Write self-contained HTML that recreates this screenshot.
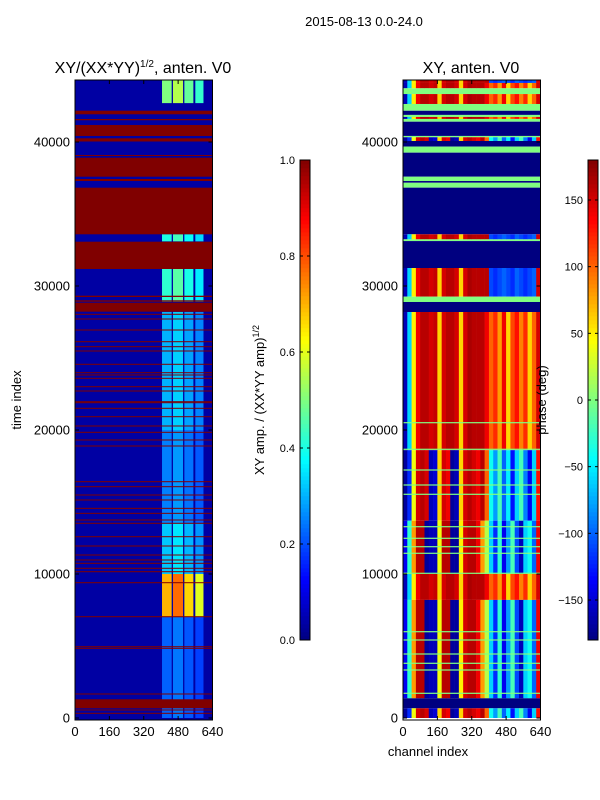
<!DOCTYPE html>
<html><head><meta charset="utf-8">
<style>
body{margin:0;background:#fff;}
svg{display:block;font-family:"Liberation Sans","DejaVu Sans",sans-serif;}
</style></head>
<body>
<svg id="fig" width="600" height="800" viewBox="0 0 600 800" xmlns="http://www.w3.org/2000/svg">
<rect width="600" height="800" fill="#fff"/>
<text x="364" y="26" font-size="13" text-anchor="middle">2015-08-13 0.0-24.0</text>
<text x="143" y="73" font-size="16" text-anchor="middle">XY/(XX*YY)<tspan font-size="10" dy="-6">1/2</tspan><tspan dy="6">, anten. V0</tspan></text>
<text x="471" y="73" font-size="16" text-anchor="middle">XY, anten. V0</text>
<g id="leftHeat"></g>
<g id="rightHeat"></g>
<g id="axes"></g>
<text transform="translate(21,400) rotate(-90)" font-size="13" text-anchor="middle">time index</text>
<text x="428" y="756" font-size="13" text-anchor="middle">channel index</text>
<text transform="translate(264,400) rotate(-90)" font-size="13" text-anchor="middle">XY amp. / (XX*YY amp)<tspan font-size="9" dy="-5">1/2</tspan></text>
<text id="phaseLabel" transform="translate(546,400) rotate(-90)" font-size="13" text-anchor="middle">phase (deg)</text>
</svg>
<script>
// ---- data ----
const tMin = -150, tMax = 44300;
const chMax = 640;
const yTicks = [0,10000,20000,30000,40000];
const xTicks = [0,160,320,480,640];
const ampTicks = [0.0,0.2,0.4,0.6,0.8,1.0];
const phaseTicks = [-150,-100,-50,0,50,100,150];
const stripeStart = [405,456,509,560];
const stripeEnd = [450,503,551,598];
const stripeGain = [1.0,1.1,0.95,0.85];
const brightStart = [42700,33100,28900,20000,13500,10000,7000,0];
const brightEnd   = [44300,33600,31200,28200,20000,13500,10000,7000];
const brightVal   = [0.5,0.4,0.42,0.3,0.25,0.32,0.7,0.22];
const ampBase = 0.035;
const redStart = [41924,41510,40417,40035,39028,37590,37292,33590,31181,29236,28910,28215,674];
const redEnd   = [42174,41597,41181,40257,39097,38910,37430,36826,33076,29326,29007,28840,1299];
const redLines = [28035,27708,26944,26132,25785,25486,24563,23979,23819,23590,23007,22708,21896,21965,21507,20924,20278,19840,19306,18889,16410,16063,15486,15139,14560,14213,13750,13521,12590,11944,11319,10972,10743,10396,10160,9396,7035,4951,4840,1667,556,326];
const profP1 = [-160,-60,50,140,160,160,150,155,60,150,160,160,150,60,150,165,160,160,160,160,-110,-120,-110,-100,-110,-120,-100,-110,-120,-110,-100,150];
const profP2 = [-160,-60,50,140,160,160,150,155,60,150,160,160,150,60,150,165,160,160,160,140,100,120,80,140,60,110,130,90,120,60,100,150];
const profP3 = [-170,-120,40,150,160,150,-160,-150,60,150,140,-170,-160,60,150,160,150,140,160,100,-40,-80,-20,-100,-50,-130,-60,-20,-90,-140,-60,130];
const profP4 = [-140,-30,80,160,160,-170,-160,-160,40,160,160,-170,-170,50,150,160,160,140,80,20,-60,-120,-30,-140,-80,-20,-110,-160,-60,-40,-100,140];
const phStart = [44100,43730,43330,42640,42170,41880,41740,41600,41410,40420,40330,40070,39680,39260,37590,37290,37170,36830,33590,33240,33120,31250,29260,28890,28194,18600,13700,10000,8200,1368,674,0];
const phEnd   = [44300,44100,43730,43330,42640,42170,41880,41740,41600,41410,40420,40330,40070,39680,39260,37590,37290,37170,36830,33590,33240,33120,31250,29260,28890,28194,18600,13700,10000,8200,1368,674];
const phKind  = ['P1','P2','G','P2','G','B','G','P2','G','B','G','P3','B','G','B','G','B','G','B','P1','G','B','P1','G','B','P2','P3','P4','P2','P4','B','P3'];
const greenLines = [20507,18660,17222,16181,15535,13285,12479,11896,11438,10049,5993,5417,4444,3799,3333,1715];

// ---- geometry ----
const NS='http://www.w3.org/2000/svg';
const plotTop=80, plotBot=720;
const yS = t => 718 - (t)*0.0144;
const L = {x0:75, x1:212.5}, R = {x0:403, x1:540.5};
const xS = (p,c) => p.x0 + c/chMax*(p.x1-p.x0);
function jet(v){v=Math.max(0,Math.min(1,v));
 const f=a=>Math.round(255*Math.max(0,Math.min(1,1.5-Math.abs(4*v-a))));
 return `rgb(${f(3)},${f(2)},${f(1)})`;}
const phCol = d => jet((d+180)/360);
function rect(g,x,y,w,h,fill,name){const r=document.createElementNS(NS,'rect');
 r.setAttribute('x',x);r.setAttribute('y',y);r.setAttribute('width',w);r.setAttribute('height',Math.max(h,0.8));r.setAttribute('fill',fill);
 
 
 g.appendChild(r);return r;}
function clipT(t){return Math.max(tMin,Math.min(tMax,t));}

const lg=document.getElementById('leftHeat');
rect(lg,L.x0,plotTop,L.x1-L.x0,plotBot-plotTop,jet(ampBase),'amp-background');
for(let i=0;i<brightVal.length;i++){
 const y0=yS(clipT(brightEnd[i])), y1=yS(clipT(brightStart[i]));
 for(let s=0;s<stripeStart.length;s++){
  rect(lg,xS(L,stripeStart[s]),y0,xS(L,stripeEnd[s])-xS(L,stripeStart[s]),y1-y0,jet(brightVal[i]*stripeGain[s]),'amp-stripe-cell');
 }
}
for(let i=0;i<redStart.length;i++){
 const y0=yS(redEnd[i]),y1=yS(redStart[i]);
 rect(lg,L.x0,y0,L.x1-L.x0,y1-y0,jet(1),'amp-saturated-band');
}
for(let i=0;i<redLines.length;i++){
 rect(lg,L.x0,yS(redLines[i])-0.5,L.x1-L.x0,1,jet(1),'amp-saturated-line');
}

const rg=document.getElementById('rightHeat');
const profs={P1:profP1,P2:profP2,P3:profP3,P4:profP4};
for(let i=0;i<phKind.length;i++){
 const y0=yS(clipT(phEnd[i])), y1=yS(clipT(phStart[i])), k=phKind[i];
 if(k==='B'){rect(rg,R.x0,y0,R.x1-R.x0,y1-y0,phCol(-180),'phase-band');}
 else if(k==='G'){rect(rg,R.x0,y0,R.x1-R.x0,y1-y0,phCol(0),'phase-band');}
 else {const p=profs[k];
  for(let b=0;b<p.length;b++){const c0=b*20,c1=c0+20;
   rect(rg,xS(R,c0),y0,xS(R,c1)-xS(R,c0)+0.3,y1-y0,phCol(p[b]),'phase-cell');}}
}
for(let i=0;i<greenLines.length;i++){
 rect(rg,R.x0,yS(greenLines[i])-0.6,R.x1-R.x0,1.2,phCol(0),'phase-line');
}

const ax=document.getElementById('axes');
function line(x1,y1,x2,y2,name){const l=document.createElementNS(NS,'line');
 l.setAttribute('x1',x1);l.setAttribute('y1',y1);l.setAttribute('x2',x2);l.setAttribute('y2',y2);
 l.setAttribute('stroke','#000');l.setAttribute('stroke-width','1');
 
 
 ax.appendChild(l);}
function text(x,y,s,anchor,size,name){const t=document.createElementNS(NS,'text');
 t.setAttribute('x',x);t.setAttribute('y',y);t.setAttribute('text-anchor',anchor);t.setAttribute('font-size',size);
 t.textContent=s;
 
 
 ax.appendChild(t);}
[L,R].forEach((p,pi)=>{
 const fr=document.createElementNS(NS,'rect');
 fr.setAttribute('x',p.x0);fr.setAttribute('y',plotTop);fr.setAttribute('width',p.x1-p.x0);fr.setAttribute('height',plotBot-plotTop);
 fr.setAttribute('fill','none');fr.setAttribute('stroke','#000');
 
 
 ax.appendChild(fr);
 yTicks.forEach(t=>{const y=yS(t);line(p.x0,y,p.x0+4,y,'y-tick');line(p.x1,y,p.x1-4,y,'y-tick');
  text(p.x0-5,y+4.5,String(t),'end',13,'y-tick-label');});
 xTicks.forEach(c=>{const x=xS(p,c);line(x,plotBot,x,plotBot-4,'x-tick');line(x,plotTop,x,plotTop+4,'x-tick');
  text(x,plotBot+16,String(c),'middle',13,'x-tick-label');});
});
function colorbar(x0,name,fn){const n=120;
 for(let i=0;i<n;i++){const v=(i+0.5)/n;
  rect(ax,x0,640-(i+1)*4,10,4.3,fn(v),name+'-segment');}
 const fr=document.createElementNS(NS,'rect');
 fr.setAttribute('x',x0);fr.setAttribute('y',160);fr.setAttribute('width',10);fr.setAttribute('height',480);
 fr.setAttribute('fill','none');fr.setAttribute('stroke','#000');
 
 
 ax.appendChild(fr);}
colorbar(300,'amp-colorbar',v=>jet(v));
ampTicks.forEach(v=>{const y=640-v*480;line(300,y,303,y,'amp-cbar-tick');line(310,y,307,y,'amp-cbar-tick');
 text(295,y+4,v.toFixed(1),'end',11,'amp-cbar-label');});
colorbar(588,'phase-colorbar',v=>jet(v));
phaseTicks.forEach(v=>{const y=640-(v+180)/360*480;line(588,y,591,y,'phase-cbar-tick');line(598,y,595,y,'phase-cbar-tick');
 text(583,y+4,v<0?'\u2212'+Math.abs(v):String(v),'end',11,'phase-cbar-label');});
</script>
</body></html>
